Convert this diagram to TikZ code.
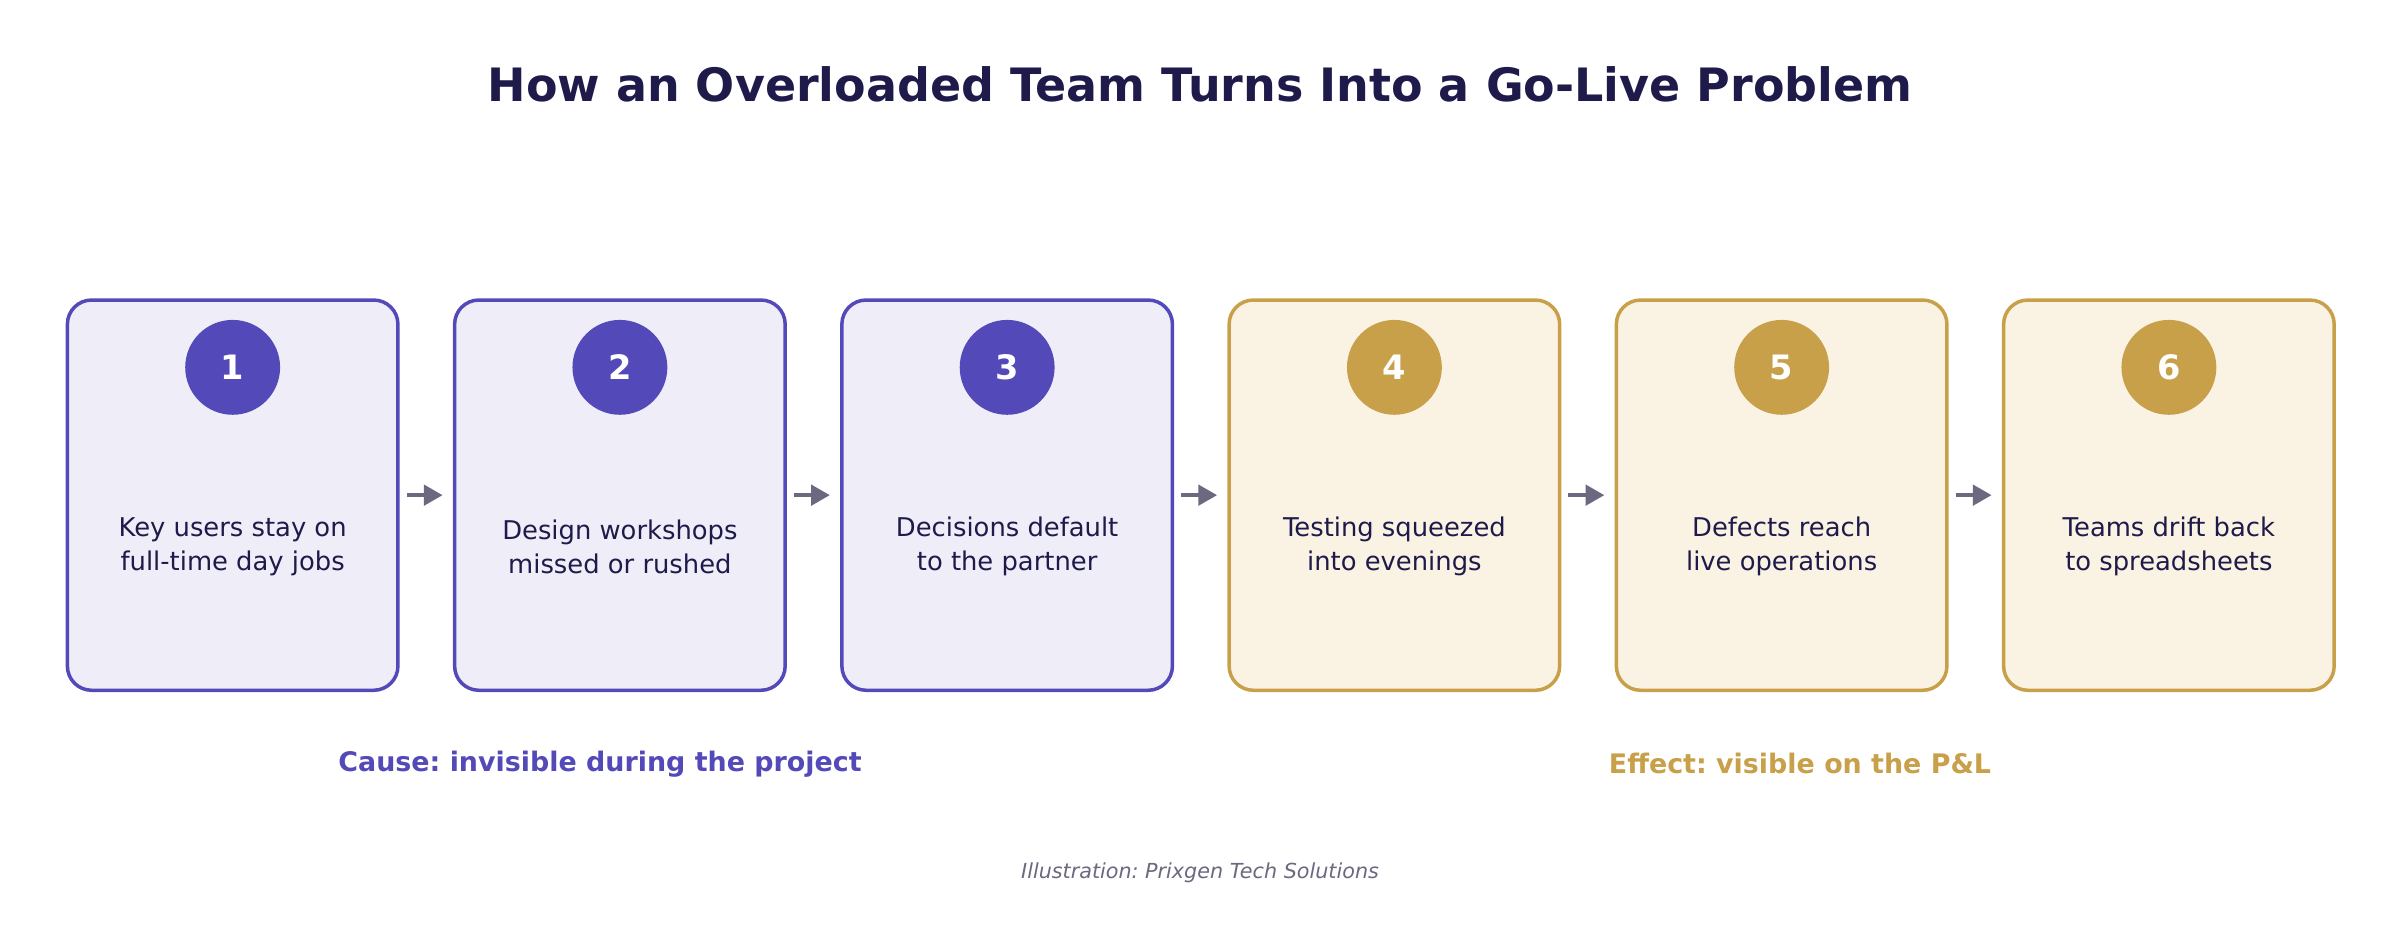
\documentclass[tikz,border=0pt]{standalone}
\usepackage{fontspec}
\setmainfont{DejaVu Sans}
\usetikzlibrary{arrows.meta, positioning}
\definecolor{cause}{HTML}{5349B8}
\definecolor{causebg}{HTML}{EFEDF8}
\definecolor{effect}{HTML}{C9A04A}
\definecolor{effectbg}{HTML}{FAF3E4}
\definecolor{ink}{HTML}{1E1B4B}
\definecolor{arrowc}{HTML}{6B6880}
\tikzset{
  step/.style={draw=#1, fill=#1bg, line width=1.3pt, rounded corners=9pt,
    minimum width=4.32cm, minimum height=5.1cm, inner sep=0pt},
  num/.style={circle, fill=#1, minimum size=1.24cm, inner sep=0pt,
    text=white, font=\fontsize{12.5}{15}\selectfont\bfseries},
  txt/.style={align=center, text=ink, font=\fontsize{9.6}{12.6}\selectfont},
  link/.style={-{Triangle[length=7pt,width=7.5pt]}, draw=arrowc, line width=1.6pt}
}
\begin{document}
\frenchspacing
\begin{tikzpicture}[x=0.02cm,y=-0.02cm]
  \useasboundingbox (0,0) rectangle (1568,608);
  \node[text=ink, font=\fontsize{17.1}{20}\selectfont\bfseries] (title) at (784,55) {How an Overloaded Team Turns Into a Go-Live Problem};
  % steps
  \foreach \i/\c/\t in {1/cause/{Key users stay on\\full-time day jobs},
                        2/cause/{Design workshops\\missed or rushed},
                        3/cause/{Decisions default\\to the partner},
                        4/effect/{Testing squeezed\\into evenings},
                        5/effect/{Defects reach\\live operations},
                        6/effect/{Teams drift back\\to spreadsheets}} {
    \node[step=\c] (s\i) at ({152+253*(\i-1)},323.5) {};
    \node[num=\c] (n\i) at ({152+253*(\i-1)},240) {\i};
    \node[txt] (t\i) at ({152+253*(\i-1)},357) {\t};
  }
  \foreach \a/\b in {1/2,2/3,3/4,4/5,5/6}
    \draw[link] ([xshift=2.6pt]s\a.east) -- ([xshift=-3.8pt]s\b.west);
  \node[text=cause, font=\fontsize{10}{12}\selectfont\bfseries] (causelbl) at (392,499) {Cause: invisible during the project};
  \node[text=effect, font=\fontsize{10}{12}\selectfont\bfseries] (effectlbl) at (1176,499) {Effect: visible on the P\&L};
  \node[text=arrowc, font=\fontsize{7.7}{9}\selectfont\itshape] (credit) at (784,570) {Illustration: Prixgen Tech Solutions};
\end{tikzpicture}
\end{document}
